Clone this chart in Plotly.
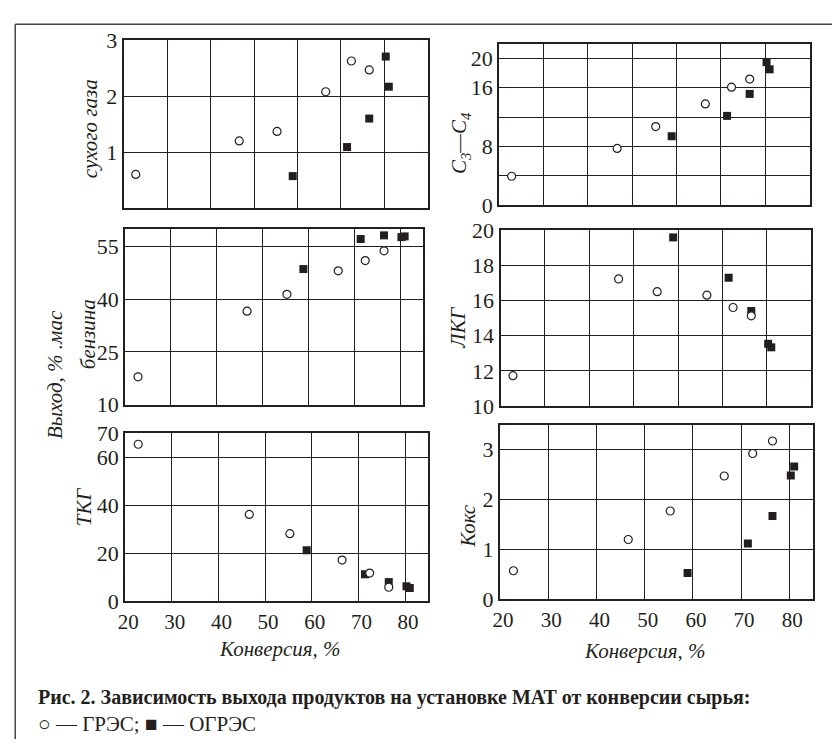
import plotly.graph_objects as go

# ---------------- data ----------------
gres_x = [22.8, 46.6, 55.3, 66.5, 72.4, 76.5]      # ГРЭС, conversion %
ogres_x = [58.9, 71.4, 76.5, 80.3, 81.0]           # ОГРЭС, conversion %

dry_gas_gres = [0.60, 1.20, 1.37, 2.08, 2.63, 2.47]
dry_gas_ogres = [0.57, 1.09, 1.60, 2.71, 2.17]

c3c4_gres = [3.96, 7.74, 10.72, 13.8, 16.08, 17.18]
c3c4_ogres = [9.4, 12.17, 15.16, 19.47, 18.5]

gasoline_gres = [17.9, 36.6, 41.4, 48.1, 51.0, 53.8]
gasoline_ogres = [48.6, 57.15, 58.2, 57.7, 57.9]

lco_gres = [11.73, 17.22, 16.5, 16.3, 15.6, 15.13]
lco_ogres = [19.58, 17.29, 15.4, 13.54, 13.34]

hco_gres = [65.4, 36.2, 28.2, 17.2, 11.8, 5.9]
hco_ogres = [21.3, 11.3, 8.05, 6.3, 5.6]

coke_gres = [0.575, 1.2, 1.77, 2.47, 2.92, 3.17]
coke_ogres = [0.53, 1.12, 1.67, 2.48, 2.66]

x_ticks = [20, 30, 40, 50, 60, 70, 80]
x_ticktext = ["20", "30", "40", "50", "60", "70", "80"]

dry_gas_ticks = [1, 2, 3]
dry_gas_ticktext = ["1", "2", "3"]
dry_gas_grid_extra = []
c3c4_ticks = [0, 8, 16, 20]
c3c4_ticktext = ["0", "8", "16", "20"]
c3c4_grid_extra = [4, 12]          # unlabeled gridlines
gasoline_ticks = [10, 25, 40, 55]
gasoline_ticktext = ["10", "25", "40", "55"]
gasoline_grid_extra = []
lco_ticks = [10, 12, 14, 16, 18, 20]
lco_ticktext = ["10", "12", "14", "16", "18", "20"]
lco_grid_extra = []
hco_ticks = [0, 20, 40, 60, 70]
hco_ticktext = ["0", "20", "40", "60", "70"]
hco_grid_extra = []
coke_ticks = [0, 1, 2, 3]
coke_ticktext = ["0", "1", "2", "3"]
coke_grid_extra = []

# ---------------- layout helpers ----------------
W, H = 832, 752
INK = "#231f20"
FONT = "Liberation Serif, Times New Roman, serif"


def px_x(v):
    return v / W


def px_y(v):
    return 1 - v / H


panels = [
    dict(px=(116.7, 424.0, 29.3, 202.7), xr=[20, 90], yr=[0, 3],
         yt=dry_gas_ticks, ytt=dry_gas_ticktext, ym=dry_gas_grid_extra, xl=False,
         g=dry_gas_gres, o=dry_gas_ogres),
    dict(px=(496.0, 809.3, 32.7, 200.0), xr=[20, 90], yr=[0, 22],
         yt=c3c4_ticks, ytt=c3c4_ticktext, ym=c3c4_grid_extra, xl=False,
         g=c3c4_gres, o=c3c4_ogres),
    dict(px=(118.3, 419.0, 224.5, 406.0), xr=[20, 85], yr=[10, 60],
         yt=gasoline_ticks, ytt=gasoline_ticktext, ym=gasoline_grid_extra, xl=False,
         g=gasoline_gres, o=gasoline_ogres),
    dict(px=(497.3, 811.0, 225.5, 407.7), xr=[20, 90], yr=[10, 20],
         yt=lco_ticks, ytt=lco_ticktext, ym=lco_grid_extra, xl=False,
         g=lco_gres, o=lco_ogres),
    dict(px=(118.3, 424.5, 435.7, 609.7), xr=[20, 85], yr=[0, 70],
         yt=hco_ticks, ytt=hco_ticktext, ym=hco_grid_extra, xl=True,
         g=hco_gres, o=hco_ogres),
    dict(px=(496.7, 813.3, 426.7, 607.7), xr=[20, 85], yr=[0, 3.5],
         yt=coke_ticks, ytt=coke_ticktext, ym=coke_grid_extra, xl=True,
         g=coke_gres, o=coke_ogres),
]

fig = go.Figure()
layout = dict(
    width=W, height=H,
    margin=dict(l=0, r=0, t=0, b=0),
    paper_bgcolor="white", plot_bgcolor="white",
    showlegend=False,
    font=dict(family=FONT, color=INK, size=20),
)

for i, p in enumerate(panels, start=1):
    x0, x1, yt_, yb_ = p["px"]
    sx = "" if i == 1 else str(i)
    xa = dict(
        domain=[px_x(x0), px_x(x1)], range=p["xr"], anchor="y" + sx,
        tickvals=x_ticks, ticktext=x_ticktext, showticklabels=p["xl"],
        showgrid=True, gridcolor=INK, gridwidth=1.3, zeroline=False,
        showline=True, linecolor=INK, linewidth=2, mirror=True, ticks="",
        tickfont=dict(family=FONT, size=21, color=INK),
        ticklabelshift=3, fixedrange=True,
    )
    ya = dict(
        domain=[px_y(yb_), px_y(yt_)], range=p["yr"], anchor="x" + sx,
        tickvals=p["yt"], ticktext=p["ytt"],
        showgrid=True, gridcolor=INK, gridwidth=1.3, zeroline=False,
        showline=True, linecolor=INK, linewidth=2, mirror=True, ticks="",
        tickfont=dict(family=FONT, size=22, color=INK), fixedrange=True,
    )
    if p["ym"]:
        ya["minor"] = dict(tickvals=p["ym"], showgrid=True, gridcolor=INK,
                           gridwidth=1.3, ticks="")
    layout["xaxis" + sx] = xa
    layout["yaxis" + sx] = ya
    fig.add_trace(go.Scatter(
        x=ogres_x, y=p["o"], mode="markers", xaxis="x" + sx, yaxis="y" + sx,
        marker=dict(symbol="square", size=8, color=INK, line=dict(width=0)),
        cliponaxis=False, name="ОГРЭС"))
    fig.add_trace(go.Scatter(
        x=gres_x, y=p["g"], mode="markers", xaxis="x" + sx, yaxis="y" + sx,
        marker=dict(symbol="circle", size=8, color="white",
                    line=dict(width=1.2, color=INK)),
        cliponaxis=False, name="ГРЭС"))

ital = dict(family=FONT, size=21, color=INK, style="italic")
annotations = [
    dict(text="сухого газа", x=px_x(83), y=px_y(121), textangle=-90, font=ital),
    dict(text="C<sub>3</sub>—C<sub>4</sub>", x=px_x(457), y=px_y(136), textangle=-90, font=ital),
    dict(text="бензина", x=px_x(81), y=px_y(333), textangle=-90, font=ital),
    dict(text="Выход, % .мас", x=px_x(47), y=px_y(375), textangle=-90, font=ital),
    dict(text="ЛКГ", x=px_x(455), y=px_y(327), textangle=-90, font=ital),
    dict(text="ТКГ", x=px_x(77), y=px_y(512), textangle=-90, font=ital),
    dict(text="Кокс", x=px_x(465), y=px_y(532), textangle=-90, font=ital),
    dict(text="Конверсия, %", x=px_x(275), y=px_y(659), font=ital),
    dict(text="Конверсия, %", x=px_x(643), y=px_y(661), font=ital),
    dict(text="Рис. 2. Зависимость выхода продуктов на установке МАТ от конверсии сырья:",
         x=px_x(28), y=px_y(709), xanchor="left",
         font=dict(family=FONT, size=20, color=INK, weight="bold")),
    dict(text="○ — ГРЭС; ■ — ОГРЭС", x=px_x(28), y=px_y(736), xanchor="left",
         font=dict(family=FONT, size=21, color=INK)),
]
for a in annotations:
    a.setdefault("xanchor", "center")
    a.update(xref="paper", yref="paper", yanchor="middle", showarrow=False)
layout["annotations"] = annotations

layout["shapes"] = [
    dict(type="line", xref="paper", yref="paper", x0=px_x(7.3), x1=1.0,
         y0=px_y(12.7), y1=px_y(12.7), line=dict(color="#444", width=1.5)),
    dict(type="line", xref="paper", yref="paper", x0=px_x(7.3), x1=px_x(7.3),
         y0=px_y(12.7), y1=0.0, line=dict(color="#444", width=1.5)),
]

fig.update_layout(**layout)
fig.write_html("out.html")
